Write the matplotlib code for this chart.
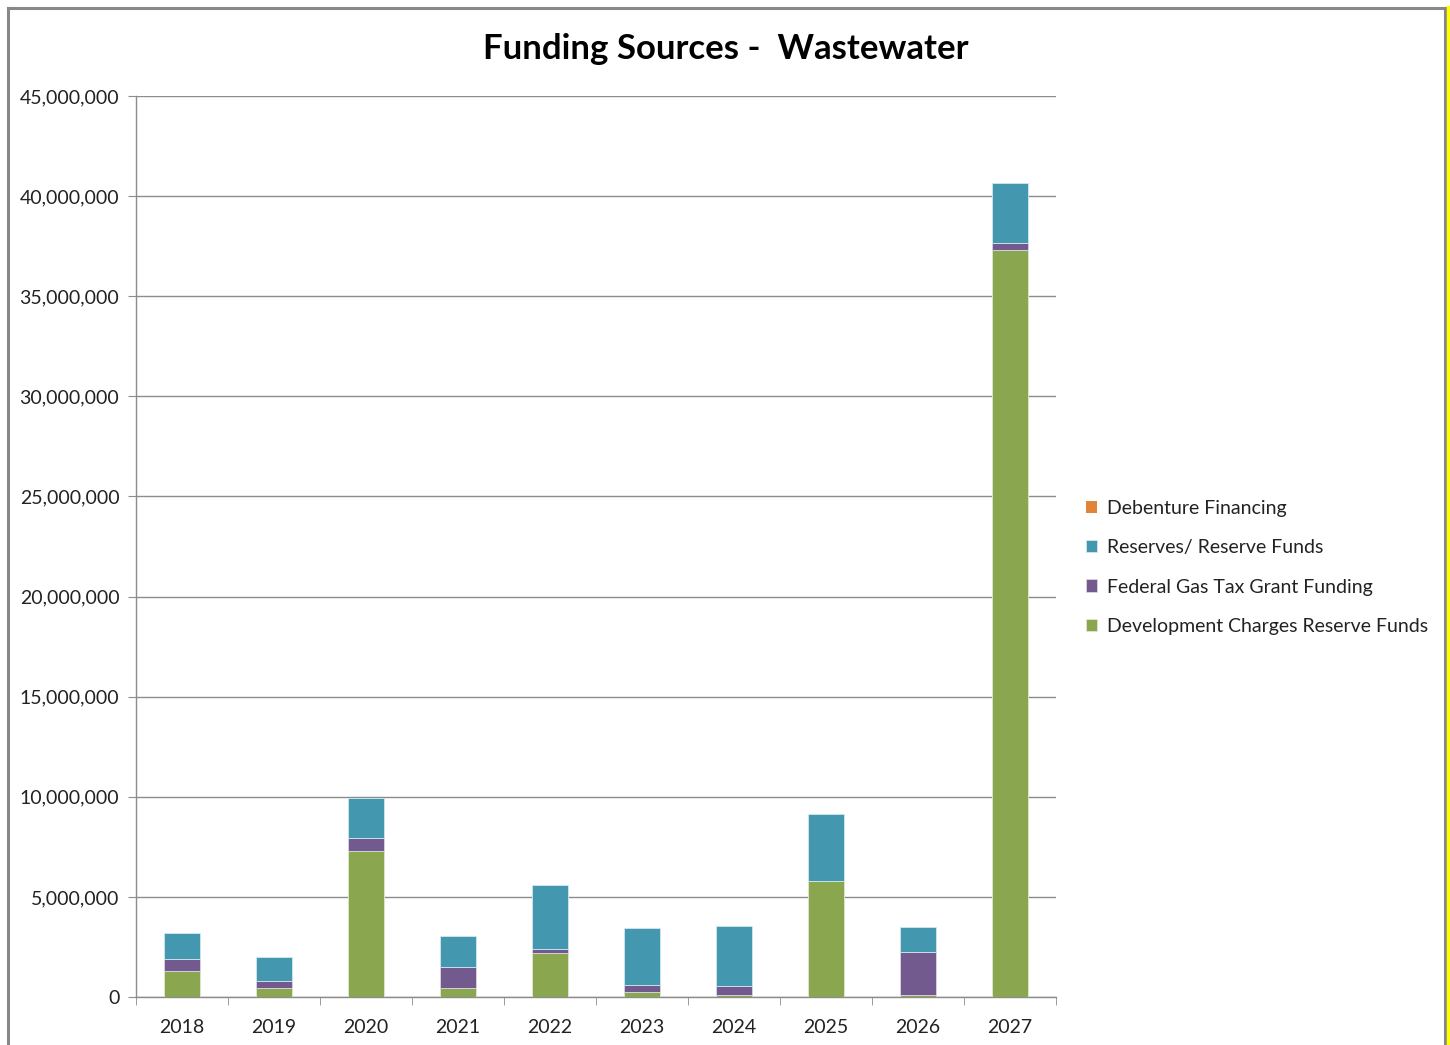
import matplotlib.pyplot as plt
import matplotlib.lines as mlines
import numpy as np
from matplotlib.ticker import FuncFormatter

years = ['2018', '2019', '2020', '2021', '2022', '2023', '2024', '2025', '2026', '2027']
dev_charges = [1320000, 450000, 7280000, 450000, 2180000, 270000, 120000, 5770000, 100000, 37300000]
gas_tax = [600000, 370000, 640000, 1070000, 200000, 350000, 450000, 0, 2170000, 370000]
reserves = [1270000, 1200000, 2030000, 1520000, 3220000, 2820000, 2980000, 3350000, 1230000, 2960000]
debenture = [0, 0, 0, 0, 0, 0, 0, 0, 0, 0]

plt.rcParams['font.family'] = ['Lato', 'DejaVu Sans']

W, H = 1450, 1045
fig = plt.figure(figsize=(W / 100, H / 100), dpi=100)
ax = fig.add_axes([136 / W, 1 - 997 / H, (1056 - 136) / W, (997 - 96) / H])

x = np.arange(len(years))
w = 0.39
dev = np.array(dev_charges)
gas = np.array(gas_tax)
res = np.array(reserves)
deb = np.array(debenture)

b1 = ax.bar(x, dev, w, color='#8AA64E', edgecolor='#dfe8cf', linewidth=0.6, zorder=3,
            label='Development Charges Reserve Funds')
b2 = ax.bar(x, gas, w, bottom=dev, color='#72598E', edgecolor='#ddd6e6', linewidth=0.6, zorder=3,
            label='Federal Gas Tax Grant Funding')
b3 = ax.bar(x, res, w, bottom=dev + gas, color='#4397AF', edgecolor='#d3e7ee', linewidth=0.6, zorder=3,
            label='Reserves/ Reserve Funds')
b4 = ax.bar(x, deb, w, bottom=dev + gas + res, color='#E0843A', linewidth=0, zorder=3,
            label='Debenture Financing')

ax.set_xlim(-0.5, len(years) - 0.5)
ax.set_ylim(0, 45000000)
ax.set_yticks(np.arange(0, 45000001, 5000000))
ax.yaxis.set_major_formatter(FuncFormatter(lambda v, p: f'{int(v):,}'))
ax.grid(axis='y', color='#8c8c8c', linewidth=1, zorder=0)

ax.set_xticks(x)
ax.set_xticklabels(years)
ax.set_xticks(np.arange(-0.5, len(years), 1), minor=True)
ax.tick_params(axis='x', which='major', length=0, pad=16, labelsize=14, colors='#222222')
ax.tick_params(axis='x', which='minor', length=6, color='#8c8c8c', direction='out')
ax.tick_params(axis='y', length=6, color='#8c8c8c', pad=6, labelsize=14, colors='#222222')

for s in ['top', 'right']:
    ax.spines[s].set_visible(False)
for s in ['left', 'bottom']:
    ax.spines[s].set_color('#8c8c8c')
    ax.spines[s].set_linewidth(1)

fig.text(726 / W, 1 - 49 / H, 'Funding Sources -  Wastewater', ha='center', va='center',
         fontsize=25, fontweight='bold', color='black')

handles = [b4, b3, b2, b1]
leg = fig.legend(handles=handles, labels=[h.get_label() for h in handles],
                 loc='upper left', bbox_to_anchor=(1078 / W, 1 - 492 / H),
                 frameon=False, fontsize=14, handlelength=0.6, handleheight=0.6,
                 handletextpad=0.5, labelspacing=1.15, borderaxespad=0)
for t in leg.get_texts():
    t.set_color('#222222')

# outer frame
fig.add_artist(mlines.Line2D([8 / W, 8 / W], [0, 1 - 8 / H], color='#888888', lw=2.2))
fig.add_artist(mlines.Line2D([8 / W, 1445 / W], [1 - 8 / H, 1 - 8 / H], color='#888888', lw=2.2))
fig.add_artist(mlines.Line2D([1445 / W, 1445 / W], [0, 1 - 8 / H], color='#888888', lw=2.2))
fig.add_artist(mlines.Line2D([1448 / W, 1448 / W], [0, 1 - 7 / H], color='#FFFF00', lw=2.5))

fig.savefig('out.png', dpi=100)
